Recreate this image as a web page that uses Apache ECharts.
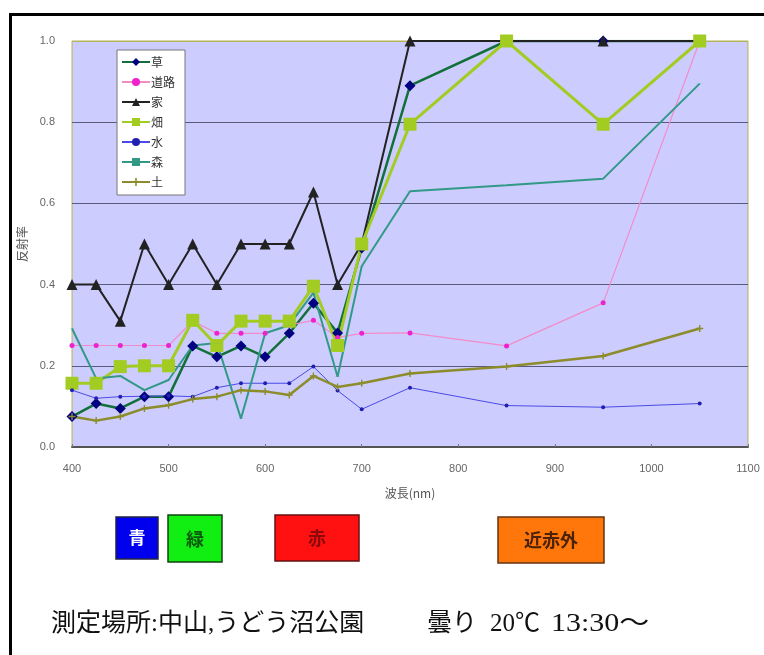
<!DOCTYPE html>
<html>
<head>
<meta charset="utf-8">
<script src="https://cdn.jsdelivr.net/npm/echarts@6/dist/echarts.min.js"></script>
<style>
  html, body { margin: 0; padding: 0; background: #fff; }
  #chart { width: 764px; height: 655px; }
</style>
</head>
<body>
<div id="chart"></div>
<script>
// 波長 (nm)
var wavelengths = [400, 425, 450, 475, 500, 525, 550, 575, 600, 625, 650, 675, 700, 750, 850, 950, 1050];

// 反射率
var kusa   = [0.075, 0.107, 0.095, 0.124, 0.124, 0.249, 0.222, 0.249, 0.222, 0.28, 0.354, 0.281, 0.49, 0.89, 1.0, 1.0, 1.0];
var douro  = [0.25, 0.25, 0.25, 0.25, 0.25, 0.31, 0.28, 0.28, 0.28, 0.30, 0.312, 0.27, 0.28, 0.281, 0.249, 0.355, 1.0];
var ie     = [0.4, 0.4, 0.31, 0.5, 0.4, 0.5, 0.4, 0.5, 0.5, 0.5, 0.628, 0.4, 0.5, 1.0, 1.0, 1.0, 1.0];
var hatake = [0.157, 0.157, 0.198, 0.2, 0.2, 0.312, 0.25, 0.31, 0.31, 0.31, 0.396, 0.25, 0.5, 0.795, 1.0, 0.795, 1.0];
var mizu   = [0.14, 0.12, 0.124, 0.125, 0.126, 0.124, 0.146, 0.157, 0.157, 0.157, 0.198, 0.139, 0.093, 0.146, 0.102, 0.098, 0.107];
var mori   = [0.292, 0.169, 0.175, 0.14, 0.165, 0.25, 0.256, 0.07, 0.28, 0.30, 0.38, 0.173, 0.445, 0.63, 0.645, 0.661, 0.895];
var tsuchi = [0.075, 0.065, 0.075, 0.095, 0.103, 0.118, 0.124, 0.14, 0.137, 0.128, 0.175, 0.148, 0.157, 0.181, 0.198, 0.224, 0.292];

var seriesNames = ['草', '道路', '家', '畑', '水', '森', '土'];
var bands = ['青', '緑', '赤', '近赤外'];
var noteParts = ['測定場所:中山,うどう沼公園', '曇り', '20℃', '13:30～'];

function pairs(vals) {
  return wavelengths.map(function (w, i) { return [w, vals[i]]; });
}

var plusPath = 'path://M4,0 L6,0 L6,4 L10,4 L10,6 L6,6 L6,10 L4,10 L4,6 L0,6 L0,4 L4,4 Z';
var dashPath = 'path://M0,0 L10,0 L10,1.2 L0,1.2 Z';
var jp = '"Noto Sans CJK JP", sans-serif';
var noteFont = '25px "Liberation Serif", "Noto Sans CJK JP"';

var chartDom = document.getElementById('chart');
var myChart = echarts.init(chartDom);
var option;

option = {
  animation: false,
  backgroundColor: '#fff',
  grid: {
    left: 72,
    right: 16,
    top: 41,
    bottom: 208,
    show: true,
    backgroundColor: '#ccccff',
    borderColor: '#b4b45a',
    borderWidth: 1
  },
  legend: {
    orient: 'vertical',
    left: 117,
    top: 50,
    backgroundColor: '#fff',
    borderColor: '#777',
    borderWidth: 1,
    padding: [6, 10, 7, 4],
    itemWidth: 28,
    itemHeight: 10,
    itemGap: 8,
    textStyle: { fontFamily: jp, fontSize: 12, lineHeight: 12, color: '#333', padding: [0, 0, 0, -4] },
    data: seriesNames
  },
  xAxis: {
    type: 'value',
    min: 400,
    max: 1100,
    interval: 100,
    name: '波長(nm)',
    nameLocation: 'middle',
    nameGap: 40,
    nameTextStyle: { fontFamily: jp, fontSize: 12, color: '#555' },
    axisLine: { lineStyle: { color: '#555', width: 2 } },
    axisTick: { inside: true, length: 3, lineStyle: { color: '#777' } },
    axisLabel: {
      fontFamily: 'Liberation Sans', fontSize: 11, color: '#666', margin: 16,
      formatter: function (v) { return String(v); }
    },
    splitLine: { show: false }
  },
  yAxis: {
    type: 'value',
    min: 0,
    max: 1.0,
    interval: 0.2,
    name: '反射率',
    nameLocation: 'middle',
    nameGap: 33,
    nameTextStyle: { fontFamily: jp, fontSize: 12, color: '#555' },
    axisLine: { show: false },
    axisTick: { show: false },
    axisLabel: {
      fontFamily: 'Liberation Sans', fontSize: 11, color: '#666', margin: 17,
      formatter: function (v) { return v.toFixed(1); }
    },
    splitLine: {
      lineStyle: {
        color: ['#5a5a7a', '#5a5a7a', '#5a5a7a', '#5a5a7a', '#5a5a7a', '#b4b45a'],
        width: 1
      }
    }
  },
  series: [
    {
      name: '草', type: 'line', data: pairs(kusa),
      symbol: 'diamond', symbolSize: 11,
      lineStyle: { color: '#13703a', width: 2.5 },
      itemStyle: { color: '#000080' }
    },
    {
      name: '道路', type: 'line', data: pairs(douro),
      symbol: 'circle', symbolSize: 5,
      lineStyle: { color: '#f28cc8', width: 1.2 },
      itemStyle: { color: '#ee22cc' }
    },
    {
      name: '家', type: 'line', data: pairs(ie),
      symbol: 'triangle', symbolSize: 11,
      lineStyle: { color: '#222', width: 2 },
      itemStyle: { color: '#222' }
    },
    {
      name: '畑', type: 'line', data: pairs(hatake),
      symbol: 'rect', symbolSize: 13,
      lineStyle: { color: '#a2cc22', width: 3 },
      itemStyle: { color: '#a2cc22' }
    },
    {
      name: '水', type: 'line', data: pairs(mizu),
      symbol: 'circle', symbolSize: 4,
      lineStyle: { color: '#4a4ae6', width: 1 },
      itemStyle: { color: '#2020b0' }
    },
    {
      name: '森', type: 'line', data: pairs(mori),
      symbol: dashPath, symbolSize: [7, 1], symbolKeepAspect: true,
      lineStyle: { color: '#339987', width: 2 },
      itemStyle: { color: '#339987' }
    },
    {
      name: '土', type: 'line', data: pairs(tsuchi),
      symbol: plusPath, symbolSize: 7,
      lineStyle: { color: '#8c8c2a', width: 2.5 },
      itemStyle: { color: '#8c8c2a' }
    }
  ],
  graphic: [
    {
      type: 'rect', left: 8, top: 12, silent: true,
      shape: { width: 790, height: 700 },
      style: { fill: 'none', stroke: '#000', lineWidth: 3 }
    },
    {
      type: 'group', silent: true,
      children: [
        { type: 'rect', shape: { x: 116, y: 517, width: 42, height: 42 }, style: { fill: '#0000ee', stroke: '#222244', lineWidth: 1.5 } },
        { type: 'text', x: 137, y: 538, style: { text: bands[0], fill: '#fff', font: 'bold 17px "Noto Sans CJK JP"', align: 'center', verticalAlign: 'middle' } },
        { type: 'rect', shape: { x: 168, y: 515, width: 54, height: 47 }, style: { fill: '#11ee11', stroke: '#114411', lineWidth: 1.5 } },
        { type: 'text', x: 195, y: 539, style: { text: bands[1], fill: '#0a5a0a', font: 'bold 18px "Noto Sans CJK JP"', align: 'center', verticalAlign: 'middle' } },
        { type: 'rect', shape: { x: 275, y: 515, width: 84, height: 46 }, style: { fill: '#ff1111', stroke: '#661111', lineWidth: 1.5 } },
        { type: 'text', x: 317, y: 538, style: { text: bands[2], fill: '#8a0a0a', font: 'bold 18px "Noto Sans CJK JP"', align: 'center', verticalAlign: 'middle' } },
        { type: 'rect', shape: { x: 498, y: 517, width: 106, height: 46 }, style: { fill: '#ff770a', stroke: '#663311', lineWidth: 1.5 } },
        { type: 'text', x: 551, y: 540, style: { text: bands[3], fill: '#4a2208', font: 'bold 18px "Noto Sans CJK JP"', align: 'center', verticalAlign: 'middle' } }
      ]
    },
    {
      type: 'group', silent: true,
      children: [
        { type: 'text', x: 51, y: 624, style: { text: noteParts[0], fill: '#111', font: noteFont, verticalAlign: 'middle' } },
        { type: 'text', x: 427, y: 624, style: { text: noteParts[1], fill: '#111', font: noteFont, verticalAlign: 'middle' } },
        { type: 'text', x: 490, y: 624, style: { text: noteParts[2], fill: '#111', font: noteFont, verticalAlign: 'middle' } },
        { type: 'text', x: 551, y: 624, scaleX: 1.2, style: { text: noteParts[3], fill: '#111', font: noteFont, verticalAlign: 'middle' } }
      ]
    }
  ]
};

option && myChart.setOption(option);
</script>
</body>
</html>
